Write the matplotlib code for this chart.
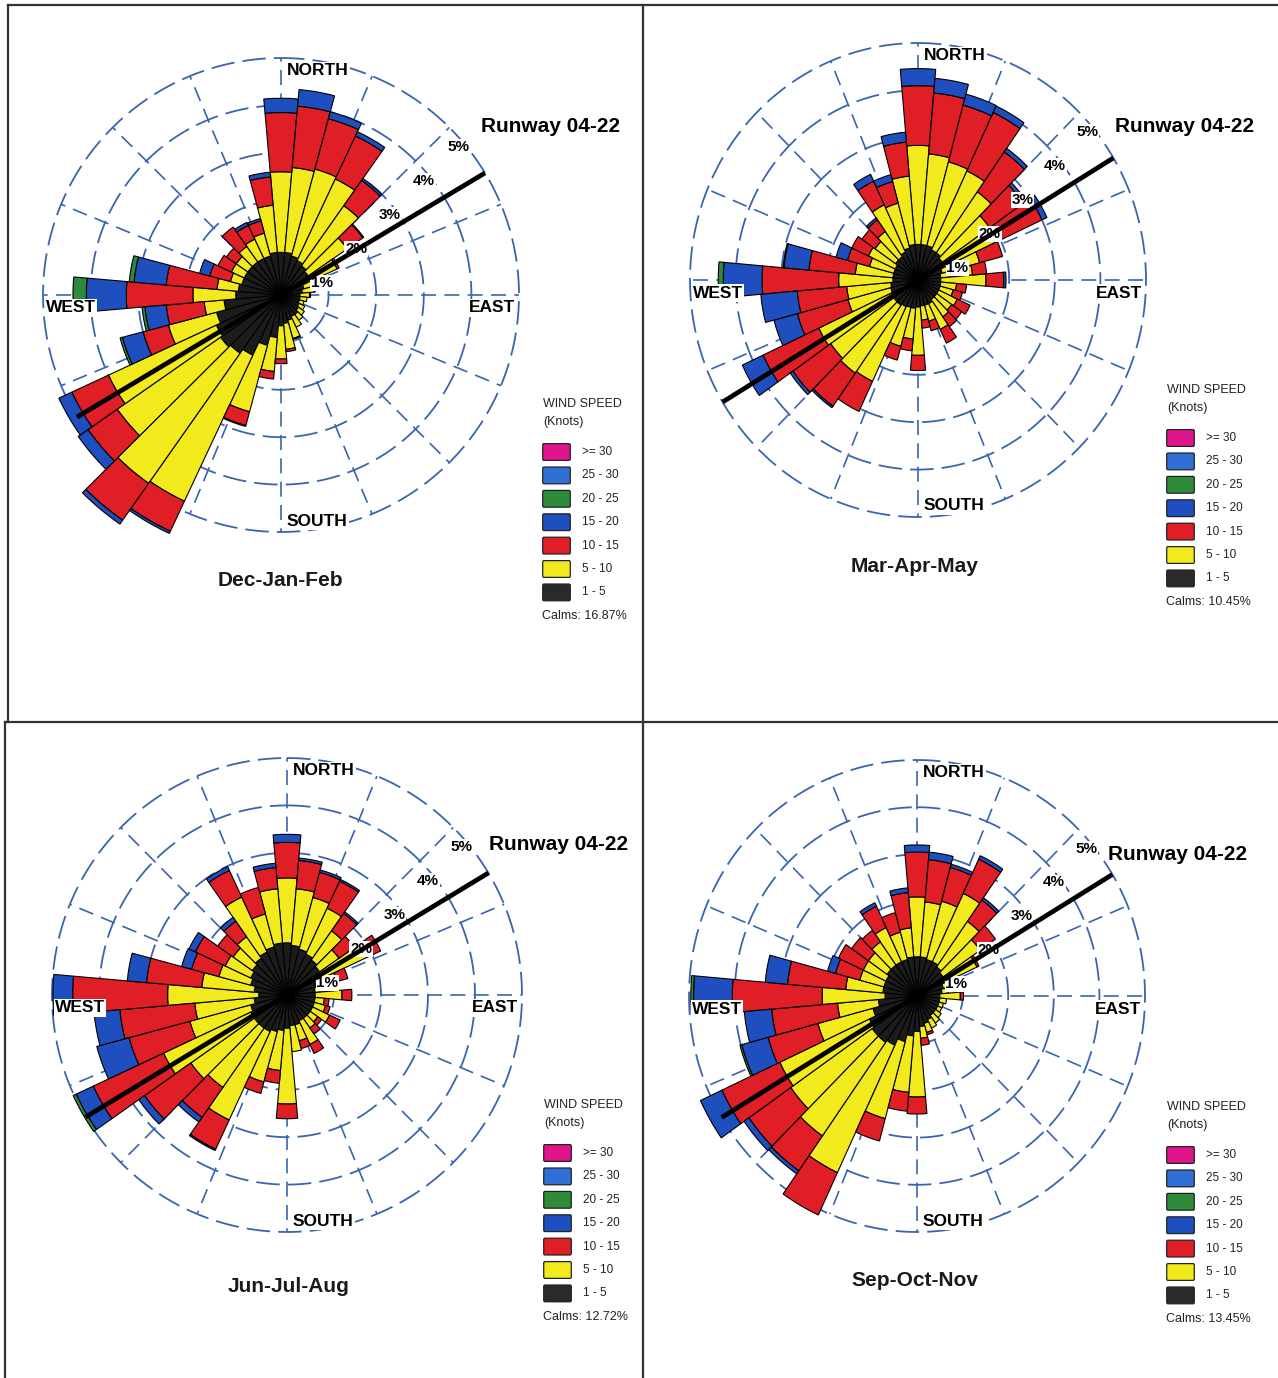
import numpy as np
import matplotlib
matplotlib.use("Agg")
import matplotlib.pyplot as plt
from matplotlib.patches import FancyBboxPatch
from matplotlib.lines import Line2D

plt.rcParams['font.family'] = ['Liberation Sans', 'DejaVu Sans']

W, H = 1278, 1378

# wind directions (deg from north), 10 deg sectors
directions = np.arange(0, 360, 10)
season_names = ["Dec-Jan-Feb", "Mar-Apr-May", "Jun-Jul-Aug", "Sep-Oct-Nov"]
calms = ["16.87%", "10.45%", "12.72%", "13.45%"]
ring_labels = ["1%", "2%", "3%", "4%", "5%"]
speed_labels = [">= 30", "25 - 30", "20 - 25", "15 - 20", "10 - 15", "5 - 10", "1 - 5"]
runway_heading = 59

# cumulative frequency (%) per direction, up to the top of each speed class
# Dec-Jan-Feb
djf_1_5 = [0.9, 0.9, 0.85, 0.8, 0.75, 0.7, 0.6, 0.5, 0.45, 0.4, 0.4, 0.4, 0.42, 0.45, 0.5, 0.5, 0.55, 0.6,
           0.65, 0.9, 1.1, 1.4, 1.5, 1.55, 1.5, 1.4, 1.2, 0.95, 0.9, 0.85, 0.85, 0.85, 0.85, 0.85, 0.85, 0.9]
djf_5_10 = [2.6, 2.7, 2.75, 2.7, 2.3, 1.7, 1.3, 0.95, 0.7, 0.6, 0.55, 0.5, 0.55, 0.6, 0.65, 0.75, 0.95, 1.15,
            1.35, 1.62, 2.55, 4.8, 4.85, 4.2, 4.0, 2.45, 1.62, 1.85, 1.35, 1.1, 1.15, 1.15, 1.25, 1.3, 1.35, 1.9]
djf_10_15 = [3.85, 4.0, 3.85, 3.7, 2.95, 2.1, 1.35, 1.0, 0.72, 0.62, 0.55, 0.5, 0.55, 0.6, 0.65, 0.75, 0.97, 1.2,
             1.45, 1.78, 2.85, 5.5, 5.8, 4.95, 4.85, 3.0, 2.42, 3.25, 2.42, 1.55, 1.46, 1.4, 1.75, 1.62, 1.62, 2.5]
djf_15_20 = [4.15, 4.35, 4.0, 3.8, 3.0, 2.12, 1.35, 1.0, 0.72, 0.62, 0.55, 0.5, 0.55, 0.6, 0.65, 0.75, 0.97, 1.2,
             1.45, 1.78, 2.87, 5.55, 5.9, 5.2, 5.15, 3.45, 2.87, 4.09, 3.1, 1.77, 1.46, 1.4, 1.75, 1.69, 1.67, 2.6]
djf_20_25 = [4.15, 4.35, 4.0, 3.8, 3.0, 2.12, 1.35, 1.0, 0.72, 0.62, 0.55, 0.5, 0.55, 0.6, 0.65, 0.75, 0.97, 1.2,
             1.45, 1.78, 2.87, 5.55, 5.9, 5.2, 5.15, 3.5, 2.93, 4.37, 3.2, 1.77, 1.46, 1.4, 1.75, 1.69, 1.67, 2.6]

# Mar-Apr-May
mam_1_5 = [0.75, 0.75, 0.75, 0.7, 0.7, 0.65, 0.6, 0.55, 0.5, 0.5, 0.5, 0.5, 0.5, 0.5, 0.5, 0.55, 0.55, 0.55,
           0.57, 0.6, 0.6, 0.62, 0.65, 0.65, 0.65, 0.62, 0.6, 0.55, 0.55, 0.55, 0.55, 0.6, 0.6, 0.65, 0.7, 0.75]
mam_5_10 = [2.84, 2.67, 2.58, 2.54, 2.27, 1.92, 2.0, 1.4, 1.2, 1.49, 0.85, 0.8, 0.95, 0.9, 0.95, 1.15, 0.9, 0.85,
            1.59, 1.25, 1.45, 2.36, 2.4, 2.34, 2.4, 1.59, 1.57, 1.74, 1.38, 1.1, 1.2, 1.15, 1.25, 1.75, 1.68, 2.2]
mam_10_15 = [4.1, 3.96, 3.82, 3.9, 3.3, 2.82, 3.0, 1.92, 1.51, 1.88, 1.07, 1.01, 1.26, 1.17, 1.2, 1.47, 1.11, 1.02,
             1.91, 1.5, 1.75, 3.06, 3.25, 3.35, 3.75, 2.74, 2.66, 3.42, 2.4, 1.6, 1.6, 1.5, 1.55, 2.3, 2.15, 2.92]
mam_15_20 = [4.46, 4.27, 4.06, 4.05, 3.39, 2.9, 3.12, 1.92, 1.51, 1.93, 1.07, 1.01, 1.26, 1.17, 1.2, 1.47, 1.11, 1.02,
             1.91, 1.5, 1.75, 3.06, 3.29, 3.42, 4.25, 3.27, 3.46, 4.27, 2.95, 1.86, 1.6, 1.5, 1.6, 2.46, 2.3, 3.13]
mam_20_25 = [4.46, 4.27, 4.06, 4.05, 3.39, 2.9, 3.12, 1.92, 1.51, 1.93, 1.07, 1.01, 1.26, 1.17, 1.2, 1.47, 1.11, 1.02,
             1.91, 1.5, 1.75, 3.06, 3.29, 3.42, 4.25, 3.27, 3.46, 4.38, 2.97, 1.86, 1.6, 1.5, 1.6, 2.46, 2.3, 3.13]

# Jun-Jul-Aug
jja_1_5 = [1.1, 1.05, 1.0, 0.95, 0.9, 0.85, 0.75, 0.65, 0.6, 0.6, 0.6, 0.6, 0.6, 0.6, 0.6, 0.6, 0.65, 0.65,
           0.7, 0.75, 0.8, 0.85, 0.85, 0.85, 0.85, 0.8, 0.7, 0.6, 0.7, 0.8, 0.85, 0.9, 0.95, 1.0, 1.05, 1.1]
jja_5_10 = [2.47, 2.25, 2.13, 2.02, 1.65, 1.35, 1.9, 1.1, 1.0, 1.17, 0.8, 0.85, 1.0, 0.8, 0.85, 1.15, 1.0, 1.2,
            2.3, 1.6, 1.9, 2.91, 2.38, 2.5, 2.9, 2.14, 1.97, 2.54, 1.82, 1.5, 1.45, 1.4, 1.5, 2.28, 1.77, 2.25]
jja_10_15 = [3.22, 2.85, 2.68, 2.65, 2.1, 1.75, 2.2, 1.34, 1.0, 1.38, 0.9, 0.95, 1.25, 0.9, 1.0, 1.36, 1.17, 1.2,
             2.61, 1.87, 2.15, 3.59, 3.15, 3.7, 4.55, 3.48, 3.57, 4.56, 3.0, 2.1, 2.15, 1.8, 1.9, 2.9, 2.35, 2.7]
jja_15_20 = [3.39, 2.9, 2.73, 2.69, 2.14, 1.75, 2.2, 1.34, 1.0, 1.38, 0.9, 0.95, 1.25, 0.9, 1.0, 1.36, 1.17, 1.2,
             2.61, 1.87, 2.15, 3.62, 3.27, 3.85, 4.95, 4.19, 4.12, 4.98, 3.41, 2.32, 2.3, 1.8, 2.0, 2.99, 2.35, 2.79]
jja_20_25 = [3.39, 2.9, 2.73, 2.69, 2.14, 1.75, 2.2, 1.34, 1.0, 1.38, 0.9, 0.95, 1.25, 0.9, 1.0, 1.36, 1.17, 1.2,
             2.61, 1.87, 2.15, 3.62, 3.27, 3.85, 5.02, 4.19, 4.12, 4.98, 3.41, 2.32, 2.3, 1.8, 2.0, 2.99, 2.35, 2.79]

# Sep-Oct-Nov
son_1_5 = [0.83, 0.83, 0.8, 0.8, 0.75, 0.7, 0.65, 0.6, 0.55, 0.5, 0.5, 0.5, 0.5, 0.5, 0.5, 0.55, 0.6, 0.65,
           0.75, 0.85, 1.0, 1.15, 1.2, 1.2, 1.15, 1.0, 0.85, 0.7, 0.75, 0.75, 0.75, 0.8, 0.8, 0.8, 0.8, 0.83]
son_5_10 = [2.1, 2.0, 2.08, 2.4, 1.93, 1.69, 1.45, 1.0, 0.7, 0.95, 0.65, 0.6, 0.6, 0.65, 0.7, 0.75, 0.8, 0.9,
            2.14, 2.05, 2.69, 4.13, 3.62, 3.38, 3.32, 2.25, 1.75, 2.08, 1.57, 1.3, 1.3, 1.3, 1.4, 1.6, 1.4, 1.45]
son_10_15 = [3.05, 2.9, 2.82, 3.2, 2.48, 2.1, 1.5, 1.0, 0.7, 1.02, 0.65, 0.6, 0.6, 0.65, 0.7, 0.75, 0.85, 1.05,
             2.5, 2.45, 3.18, 5.12, 4.52, 4.5, 4.72, 3.38, 3.2, 4.05, 2.85, 1.85, 1.9, 1.75, 1.7, 2.1, 1.83, 2.2]
son_15_20 = [3.2, 3.06, 2.89, 3.28, 2.54, 2.1, 1.5, 1.0, 0.7, 1.02, 0.65, 0.6, 0.6, 0.65, 0.7, 0.75, 0.85, 1.05,
             2.5, 2.45, 3.18, 5.12, 4.6, 4.63, 5.24, 3.98, 3.8, 4.9, 3.34, 2.03, 1.9, 1.75, 1.7, 2.18, 1.83, 2.3]
son_20_25 = [3.2, 3.06, 2.89, 3.28, 2.54, 2.1, 1.5, 1.0, 0.7, 1.02, 0.65, 0.6, 0.6, 0.65, 0.7, 0.75, 0.85, 1.05,
             2.5, 2.45, 3.18, 5.12, 4.6, 4.63, 5.24, 4.02, 3.8, 4.96, 3.34, 2.03, 1.9, 1.75, 1.7, 2.18, 1.83, 2.3]

rose_colors = ['#1c1c1c', '#f2ea1c', '#e01e26', '#1f4fbf', '#2d8a3c']
legend_colors = ['#e0158c', '#2f6fd6', '#2e8b3a', '#1f4fbf', '#e01e26', '#f2ea1c', '#2a2a2a']
grid_color = '#3a64b0'

fig = plt.figure(figsize=(W / 100, H / 100), dpi=100)


def fx(x):
    return x / W


def fy(y):
    return 1 - y / H


def draw_rose(cx, cy, rx, ry, levels):
    rmax = 6.2
    w, h = 2 * rx * rmax / 5, 2 * ry * rmax / 5
    ax = fig.add_axes([fx(cx - w / 2), fy(cy + h / 2), w / W, h / H], projection='polar')
    ax.set_aspect('auto')
    ax.set_theta_zero_location('N')
    ax.set_theta_direction(-1)
    ax.set_ylim(0, rmax)
    ax.axis('off')

    # dashed rings and spokes
    t = np.linspace(0, 2 * np.pi, 400)
    for r in range(1, 6):
        ax.plot(t, np.full_like(t, r), color=grid_color, lw=1.3, ls=(0, (13, 4.5)), zorder=1)
    for a in np.arange(0, 360, 22.5):
        ax.plot([np.deg2rad(a)] * 2, [0, 5], color=grid_color, lw=1.2, ls=(0, (9, 5)), zorder=1)

    # stacked wind speed bars
    theta = np.deg2rad(directions)
    bottom = np.zeros(len(directions))
    for lev, col in zip(levels, rose_colors):
        lev = np.array(lev)
        hgt = lev - bottom
        m = hgt > 0.005
        ax.bar(theta[m], hgt[m], width=np.deg2rad(10), bottom=bottom[m], color=col,
               edgecolor='black', linewidth=0.8, zorder=3)
        bottom = lev

    # ring labels
    for k, lab in enumerate(ring_labels, start=1):
        x = cx + (7 + 34 * k) * rx / 238
        y = cy - (34 * k - 22) * ry / 237
        ax.text(fx(x), fy(y), lab, transform=fig.transFigure, ha='center', va='center',
                fontsize=11, fontweight='bold', zorder=4,
                bbox=dict(facecolor='white', edgecolor='none', pad=0.6))

    # runway 04-22
    for a in (runway_heading, runway_heading + 180):
        ax.plot([np.deg2rad(a)] * 2, [0, 5.0], color='black', lw=3.4, solid_capstyle='butt', zorder=5)

    box = dict(facecolor='white', edgecolor='none', pad=0.8)
    fig.text(fx(cx + 6), fy(cy - ry + 12.5), "NORTH", ha='left', va='center', fontsize=12.5,
             fontweight='bold', bbox=box)
    fig.text(fx(cx + 6), fy(cy + ry - 11), "SOUTH", ha='left', va='center', fontsize=12.5,
             fontweight='bold', bbox=box)
    fig.text(fx(cx - rx + 3), fy(cy + 13), "WEST", ha='left', va='center', fontsize=12.5,
             fontweight='bold', bbox=box)
    fig.text(fx(cx + rx - 4), fy(cy + 13), "EAST", ha='right', va='center', fontsize=12.5,
             fontweight='bold', bbox=box)


def draw_legend(x0, y0, calm):
    fig.text(fx(x0), fy(y0), "WIND SPEED", ha='left', va='center', fontsize=9, color='#222222')
    fig.text(fx(x0), fy(y0 + 18), "(Knots)", ha='left', va='center', fontsize=9, color='#222222')
    for i, (lab, col) in enumerate(zip(speed_labels, legend_colors)):
        yc = y0 + 48 + i * 23.4
        sw = FancyBboxPatch((fx(x0 + 1), fy(yc + 7)), 25 / W, 14 / H,
                            boxstyle='round,pad=0.001', transform=fig.transFigure,
                            facecolor=col, edgecolor='#222222', linewidth=0.9)
        fig.add_artist(sw)
        fig.text(fx(x0 + 39), fy(yc), lab, ha='left', va='center', fontsize=8.5, color='#222222')
    fig.text(fx(x0 - 1), fy(y0 + 48 + 6 * 23.4 + 24), "Calms: " + calm, ha='left', va='center',
             fontsize=9, color='#222222')


panels = [
    (281, 295, 238, 237, [djf_1_5, djf_5_10, djf_10_15, djf_15_20, djf_20_25]),
    (918, 280, 228, 237, [mam_1_5, mam_5_10, mam_10_15, mam_15_20, mam_20_25]),
    (287, 995, 235, 237, [jja_1_5, jja_5_10, jja_10_15, jja_15_20, jja_20_25]),
    (917, 996, 228, 236, [son_1_5, son_5_10, son_10_15, son_15_20, son_20_25]),
]
runway_pos = [(551, 126), (1185, 126), (559, 845), (1178, 855)]
title_pos = [(280, 580), (915, 566), (289, 1286), (915, 1281)]
legend_pos = [(543, 404), (1167, 390), (544, 1105), (1167, 1107)]

for i, (cx, cy, rx, ry, levels) in enumerate(panels):
    draw_rose(cx, cy, rx, ry, levels)
    fig.text(fx(runway_pos[i][0]), fy(runway_pos[i][1]), "Runway 04-22", ha='center', va='center',
             fontsize=15, fontweight='bold')
    fig.text(fx(title_pos[i][0]), fy(title_pos[i][1]), season_names[i], ha='center', va='center',
             fontsize=15, fontweight='bold', color='#1a1a1a')
    draw_legend(legend_pos[i][0], legend_pos[i][1], calms[i])

# panel frame lines
frame = dict(color='#333333', lw=1.6, transform=fig.transFigure)
fig.add_artist(Line2D([fx(8), fx(1278)], [fy(5), fy(5)], **frame))
fig.add_artist(Line2D([fx(8), fx(8)], [fy(5), fy(722)], **frame))
fig.add_artist(Line2D([fx(5), fx(5)], [fy(722), fy(1378)], **frame))
fig.add_artist(Line2D([fx(643), fx(643)], [fy(5), fy(1378)], **frame))
fig.add_artist(Line2D([fx(5), fx(1278)], [fy(722), fy(722)], **frame))

fig.savefig("out.png", dpi=100)
